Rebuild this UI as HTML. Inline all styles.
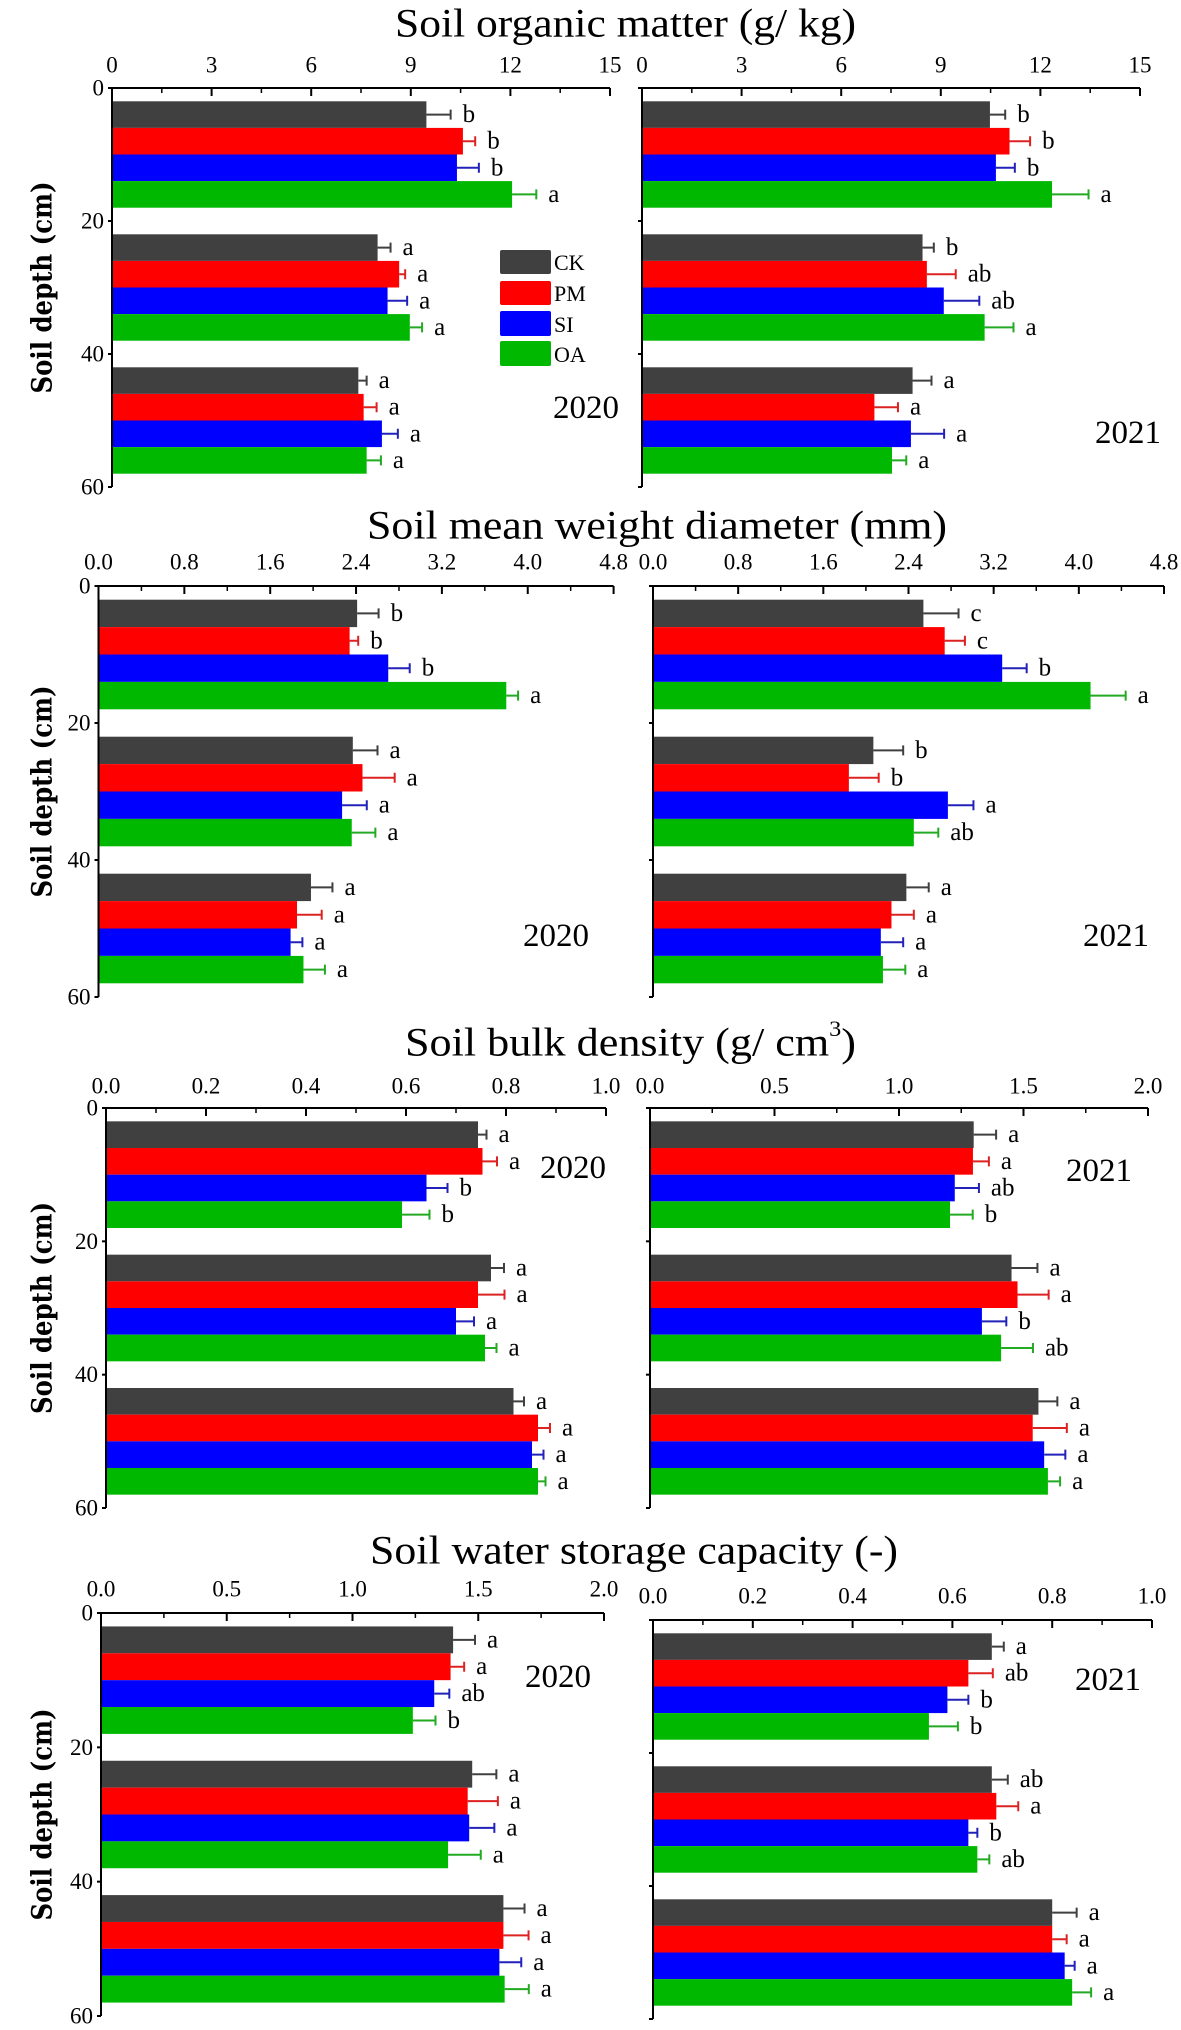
<!DOCTYPE html>
<html><head><meta charset="utf-8">
<style>
html,body{margin:0;padding:0;background:#fff;}
svg{display:block;font-family:"Liberation Serif",serif;}
</style></head>
<body>
<svg id="fig" width="1181" height="2030" viewBox="0 0 1181 2030" xmlns="http://www.w3.org/2000/svg">
<g>
<rect x="500" y="250" width="51" height="24" rx="2" fill="#404040"/>
<rect x="500" y="281" width="51" height="24" rx="2" fill="#ff0000"/>
<rect x="500" y="311" width="51" height="25" rx="2" fill="#0000ff"/>
<rect x="500" y="341" width="51" height="25" rx="2" fill="#00b800"/>
<text x="554" y="270" font-size="22">CK</text>
<text x="554" y="301" font-size="22">PM</text>
<text x="554" y="332" font-size="22">SI</text>
<text x="554" y="362" font-size="22">OA</text>
</g>
</svg>
<script>
// treatments and depth groups
var treatments = ["CK","PM","SI","OA"];
var depthGroups = ["0-20","20-40","40-60"];
var depthTicks = [0,20,40,60];
// Soil organic matter (g/kg)
var omTicks = ["0","3","6","9","12","15"];
var om2020 = [[9.47,10.57,10.39,12.05],[8.0,8.65,8.3,8.97],[7.42,7.58,8.13,7.67]];
var om2020Err = [[0.73,0.37,0.66,0.73],[0.39,0.18,0.59,0.37],[0.25,0.39,0.48,0.43]];
var om2020Sig = [["b","b","b","a"],["a","a","a","a"],["a","a","a","a"]];
var om2021 = [[10.48,11.07,10.66,12.35],[8.45,8.58,9.09,10.32],[8.15,7.0,8.1,7.53]];
var om2021Err = [[0.46,0.62,0.57,1.1],[0.34,0.87,1.07,0.87],[0.57,0.71,1.0,0.43]];
var om2021Sig = [["b","b","b","a"],["b","ab","ab","a"],["a","a","a","a"]];
// Soil mean weight diameter (mm)
var mwdTicks = ["0.0","0.8","1.6","2.4","3.2","4.0","4.8"];
var mwd2020 = [[2.41,2.34,2.70,3.80],[2.37,2.46,2.27,2.36],[1.98,1.85,1.79,1.91]];
var mwd2020Err = [[0.2,0.08,0.2,0.11],[0.23,0.3,0.23,0.22],[0.2,0.23,0.11,0.2]];
var mwd2020Sig = [["b","b","b","a"],["a","a","a","a"],["a","a","a","a"]];
var mwd2021 = [[2.54,2.74,3.28,4.11],[2.07,1.84,2.77,2.45],[2.38,2.24,2.14,2.16]];
var mwd2021Err = [[0.33,0.19,0.23,0.33],[0.28,0.28,0.24,0.23],[0.21,0.21,0.21,0.21]];
var mwd2021Sig = [["c","c","b","a"],["b","b","a","ab"],["a","a","a","a"]];
// Soil bulk density (g/cm3)
var bdTicks2020 = ["0.0","0.2","0.4","0.6","0.8","1.0"];
var bdTicks2021 = ["0.0","0.5","1.0","1.5","2.0"];
var bd2020 = [[0.744,0.753,0.641,0.592],[0.77,0.744,0.70,0.758],[0.815,0.864,0.852,0.864]];
var bd2020Err = [[0.017,0.029,0.042,0.055],[0.026,0.053,0.036,0.023],[0.021,0.024,0.023,0.015]];
var bd2020Sig = [["a","a","b","b"],["a","a","a","a"],["a","a","a","a"]];
var bd2021 = [[1.30,1.297,1.224,1.205],[1.452,1.476,1.333,1.41],[1.56,1.537,1.583,1.598]];
var bd2021Err = [[0.09,0.064,0.097,0.091],[0.104,0.125,0.098,0.128],[0.076,0.137,0.085,0.049]];
var bd2021Sig = [["a","a","ab","b"],["a","a","b","ab"],["a","a","a","a"]];
// Soil water storage capacity (-)
var wsTicks2020 = ["0.0","0.5","1.0","1.5","2.0"];
var wsTicks2021 = ["0.0","0.2","0.4","0.6","0.8","1.0"];
var ws2020 = [[1.40,1.39,1.325,1.24],[1.476,1.458,1.464,1.38],[1.60,1.60,1.584,1.605]];
var ws2020Err = [[0.087,0.054,0.06,0.09],[0.096,0.12,0.1,0.13],[0.084,0.1,0.087,0.096]];
var ws2020Sig = [["a","a","ab","b"],["a","a","a","a"],["a","a","a","a"]];
var ws2021 = [[0.679,0.632,0.59,0.553],[0.679,0.688,0.632,0.65],[0.80,0.80,0.825,0.84]];
var ws2021Err = [[0.024,0.049,0.042,0.058],[0.032,0.044,0.018,0.024],[0.049,0.029,0.02,0.038]];
var ws2021Sig = [["a","ab","b","b"],["ab","a","b","ab"],["a","a","a","a"]];

var colors = ["#404040","#ff0000","#0000ff","#00b800"];
var errColors = ["#404040","#dd2222","#2222bb","#22aa22"];
var NS = "http://www.w3.org/2000/svg";
var svg = document.getElementById("fig");
var legend = svg.firstElementChild;

function mk(tag, attrs, parent){
  var e = document.createElementNS(NS, tag);
  for (var k in attrs) e.setAttribute(k, attrs[k]);
  (parent||svg).appendChild(e);
  return e;
}

var panels = [
 {name:"organic-matter", title:"Soil organic matter (g/ kg)", ty:23, tx0:395, tw:461,
  plots:[
   {year:"2020", x0:112, x1:610, y0:88, y1:487, ly:65, max:15, ticks:omTicks, v:om2020, e:om2020Err, s:om2020Sig, yx:553, yy:418, labels:true},
   {year:"2021", x0:642, x1:1140, y0:88, y1:487, ly:65, max:15, ticks:omTicks, v:om2021, e:om2021Err, s:om2021Sig, yx:1095, yy:443, labels:false}]},
 {name:"mean-weight-diameter", title:"Soil mean weight diameter (mm)", ty:525, tx0:367, tw:580,
  plots:[
   {year:"2020", x0:98.5, x1:613.6, y0:586, y1:997, ly:562, max:4.8, ticks:mwdTicks, v:mwd2020, e:mwd2020Err, s:mwd2020Sig, yx:523, yy:946, labels:true},
   {year:"2021", x0:653, x1:1164, y0:586, y1:997, ly:562, max:4.8, ticks:mwdTicks, v:mwd2021, e:mwd2021Err, s:mwd2021Sig, yx:1083, yy:946, labels:false}]},
 {name:"bulk-density", title:"Soil bulk density (g/ cm", sup:"3", tail:")", ty:1042, tx0:405, tw:451,
  plots:[
   {year:"2020", x0:106, x1:606, y0:1108, y1:1508, ly:1086, max:1.0, ticks:bdTicks2020, v:bd2020, e:bd2020Err, s:bd2020Sig, yx:540, yy:1178, labels:true},
   {year:"2021", x0:650, x1:1148, y0:1108, y1:1508, ly:1086, max:2.0, ticks:bdTicks2021, v:bd2021, e:bd2021Err, s:bd2021Sig, yx:1066, yy:1181, labels:false}]},
 {name:"water-storage", title:"Soil water storage capacity (-)", ty:1550, tx0:370, tw:528,
  plots:[
   {year:"2020", x0:101, x1:604, y0:1613, y1:2016, ly:1589, max:2.0, ticks:wsTicks2020, v:ws2020, e:ws2020Err, s:ws2020Sig, yx:525, yy:1687, labels:true},
   {year:"2021", x0:653, x1:1152, y0:1620, y1:2019, ly:1596, max:1.0, ticks:wsTicks2021, v:ws2021, e:ws2021Err, s:ws2021Sig, yx:1075, yy:1690, labels:false}]}
];

panels.forEach(function(p){
  var g = mk("g", {});
  
  
  var t = mk("text", {x:p.tx0, y:p.ty, "font-size":40, "dominant-baseline":"central", textLength:p.tw, lengthAdjust:"spacingAndGlyphs"}, g);
  
  
  t.textContent = p.title;
  if (p.sup){
    t.removeAttribute("textLength");
    var s1 = mk("tspan", {"font-size":22, dy:-14}, t); s1.textContent = p.sup;
    var s2 = mk("tspan", {dy:14}, t); s2.textContent = p.tail;
    t.setAttribute("textLength", p.tw);
  }
  p.plots.forEach(function(pl, pi){
    var pg = mk("g", {}, g);
    
    
    var xs = function(v){ return pl.x0 + v/pl.max*(pl.x1-pl.x0); };
    var ys = function(d){ return pl.y0 + d/60*(pl.y1-pl.y0); };
    // bars
    pl.v.forEach(function(row, gi){
      row.forEach(function(val, ti){
        var d0 = 2 + gi*20 + ti*4;
        var r = mk("rect", {x:pl.x0, y:ys(d0), width:xs(val)-pl.x0, height:ys(d0+4)-ys(d0), fill:colors[ti]}, pg);
        
        
        var ym = ys(d0+2), xe = xs(val + pl.e[gi][ti]);
        var eb = mk("path", {d:"M"+xs(val)+" "+ym+"H"+xe+"M"+xe+" "+(ym-5)+"V"+(ym+5), stroke:errColors[ti], "stroke-width":2, fill:"none"}, pg);
        
        
        var lt = mk("text", {x:xe+12, y:ym, "font-size":25, "dominant-baseline":"central"}, pg);
        
        
        lt.textContent = pl.s[gi][ti];
      });
    });
    // top axis
    var ax = mk("g", {stroke:"#000", fill:"none"}, pg);
    
    
    mk("path", {d:"M"+pl.x0+" "+pl.y0+"H"+pl.x1, "stroke-width":2}, ax);
    var n = pl.ticks.length-1;
    for (var i=0;i<=n;i++){
      var tx = pl.x0 + i/n*(pl.x1-pl.x0);
      mk("path", {d:"M"+tx+" "+pl.y0+"V"+(pl.y0+8), "stroke-width":2}, ax);
      if (i<n){ var mx = pl.x0+(i+0.5)/n*(pl.x1-pl.x0); mk("path", {d:"M"+mx+" "+pl.y0+"V"+(pl.y0+5), "stroke-width":1.5}, ax); }
      var tl = mk("text", {x:tx, y:pl.ly, "font-size":23, "text-anchor":"middle", "dominant-baseline":"central", fill:"#000", stroke:"none"}, pg);
      
      
      tl.textContent = pl.ticks[i];
    }
    // left axis
    var ay = mk("g", {stroke:"#000", fill:"none"}, pg);
    
    
    mk("path", {d:"M"+pl.x0+" "+pl.y0+"V"+pl.y1, "stroke-width":2}, ay);
    depthTicks.forEach(function(d){
      mk("path", {d:"M"+(pl.x0-4)+" "+ys(d)+"H"+pl.x0, "stroke-width":2}, ay);
      if (pl.labels){
        var dl = mk("text", {x:pl.x0-8, y:ys(d), "font-size":23, "text-anchor":"end", "dominant-baseline":"central", fill:"#000", stroke:"none"}, pg);
        
        
        dl.textContent = d;
      }
    });
    if (pl.labels){
      var cy = (pl.y0+pl.y1)/2;
      var yt = mk("text", {x:0, y:0, "font-size":28, "font-weight":"bold", "font-family":"DejaVu Serif, serif", "text-anchor":"middle", "dominant-baseline":"central", transform:"translate(42,"+cy+") rotate(-90)", textLength:212, lengthAdjust:"spacingAndGlyphs"}, pg);
      
      
      yt.textContent = "Soil depth (cm)";
    }
    var yr = mk("text", {x:pl.yx, y:pl.yy, "font-size":33}, pg);
    
    
    yr.textContent = pl.year;
  });
});
svg.appendChild(legend);
</script>
</body></html>
